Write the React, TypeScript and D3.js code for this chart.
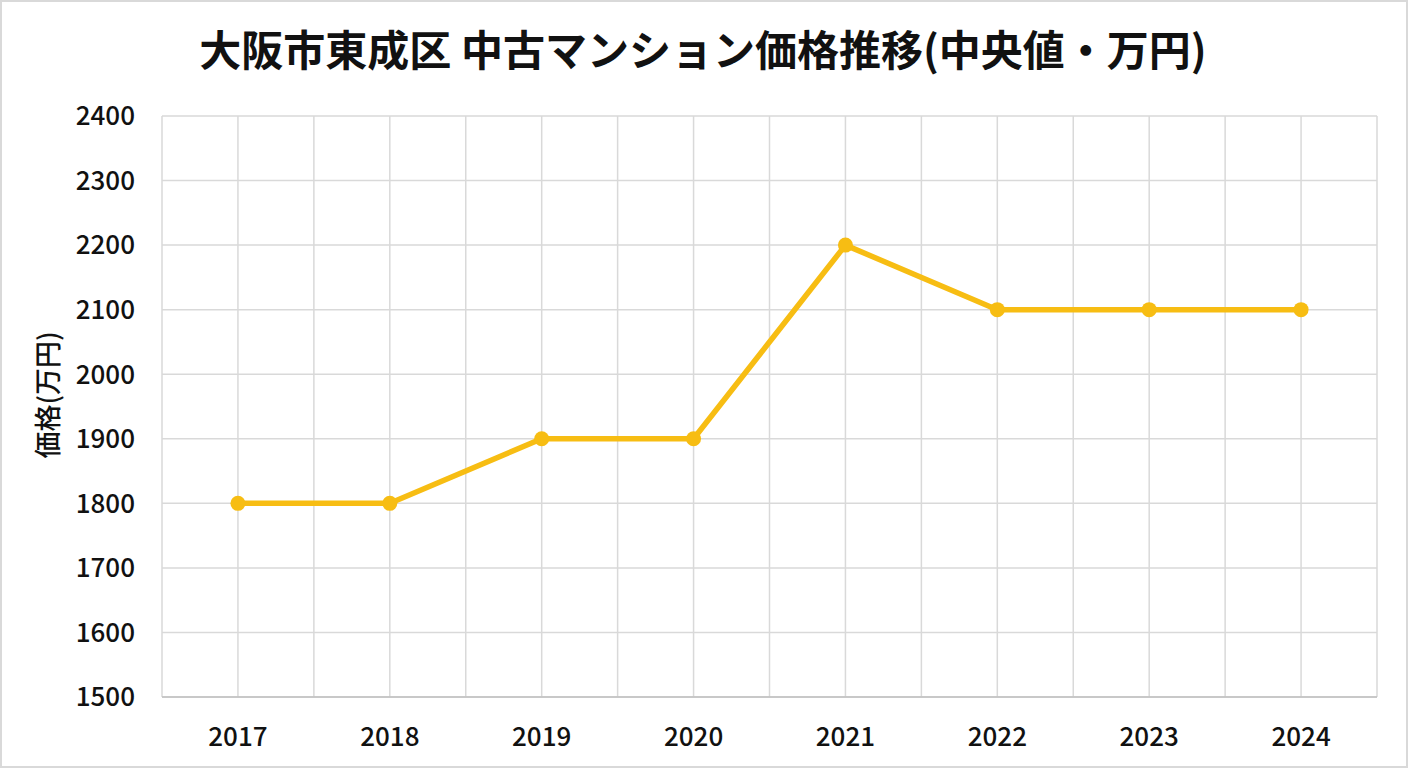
import * as d3 from 'd3';
import React from 'react';

const years = ['2017', '2018', '2019', '2020', '2021', '2022', '2023', '2024'];
const prices = [1800, 1800, 1900, 1900, 2200, 2100, 2100, 2100];
const yTicks = [1500, 1600, 1700, 1800, 1900, 2000, 2100, 2200, 2300, 2400];

const W = 1408;
const H = 768;
const margin = { top: 116, right: 31, bottom: 71, left: 162 };
const font = '"Noto Sans CJK JP", "Noto Sans", sans-serif';
const lineColor = '#F7BD13';

function App() {
  const x = d3
    .scaleBand<string>()
    .domain(years)
    .range([margin.left, W - margin.right])
    .padding(0);
  const y = d3
    .scaleLinear()
    .domain([1500, 2400])
    .range([H - margin.bottom, margin.top]);

  const bw = x.bandwidth();
  const cx = (d: string) => (x(d) ?? 0) + bw / 2;

  // vertical grid: band edges and band centres
  const vLines: number[] = [];
  years.forEach((d) => {
    vLines.push(x(d) ?? 0);
    vLines.push(cx(d));
  });
  vLines.push(W - margin.right);

  const line = d3
    .line<number>()
    .x((_, i) => cx(years[i]))
    .y((v) => y(v));

  return (
    <svg
      width={W}
      height={H}
      style={{ position: 'absolute', left: 0, top: 0, background: '#fff' }}
      fontFamily={font}
    >
      <rect x={1} y={1} width={W - 2} height={H - 2} fill="#fff" stroke="#d9d9d9" strokeWidth={2} />
      <text x={703} y={66} textAnchor="middle" fontSize={42} fontWeight={700} fill="#111">
        大阪市東成区 中古マンション価格推移(中央値・万円)
      </text>

      {yTicks.map((t) => (
        <line
          key={'h' + t}
          x1={margin.left}
          x2={W - margin.right}
          y1={y(t)}
          y2={y(t)}
          stroke="#d9d9d9"
          strokeWidth={1.5}
        />
      ))}
      {vLines.map((v, i) => (
        <line
          key={'v' + i}
          x1={v}
          x2={v}
          y1={margin.top}
          y2={H - margin.bottom}
          stroke="#d9d9d9"
          strokeWidth={1.5}
        />
      ))}
      <line
        x1={margin.left}
        x2={W - margin.right}
        y1={y(1500)}
        y2={y(1500)}
        stroke="#bfbfbf"
        strokeWidth={1.5}
      />

      {yTicks.map((t) => (
        <text
          key={'yl' + t}
          x={135}
          y={y(t)}
          dy="0.36em"
          textAnchor="end"
          fontSize={26}
          fontWeight={500}
          fill="#111"
        >
          {t}
        </text>
      ))}
      {years.map((d) => (
        <text
          key={'xl' + d}
          x={cx(d)}
          y={737}
          dy="0.36em"
          textAnchor="middle"
          fontSize={26}
          fontWeight={500}
          fill="#111"
        >
          {d}
        </text>
      ))}
      <text
        transform={`translate(48, ${395}) rotate(-90)`}
        textAnchor="middle"
        dy="0.36em"
        fontSize={27}
        fontWeight={500}
        fill="#111"
      >
        価格(万円)
      </text>

      <path d={line(prices) ?? ''} fill="none" stroke={lineColor} strokeWidth={5.5} strokeLinejoin="round" />
      {prices.map((v, i) => (
        <circle key={'p' + i} cx={cx(years[i])} cy={y(v)} r={7.5} fill={lineColor} />
      ))}
    </svg>
  );
}

export default App;
